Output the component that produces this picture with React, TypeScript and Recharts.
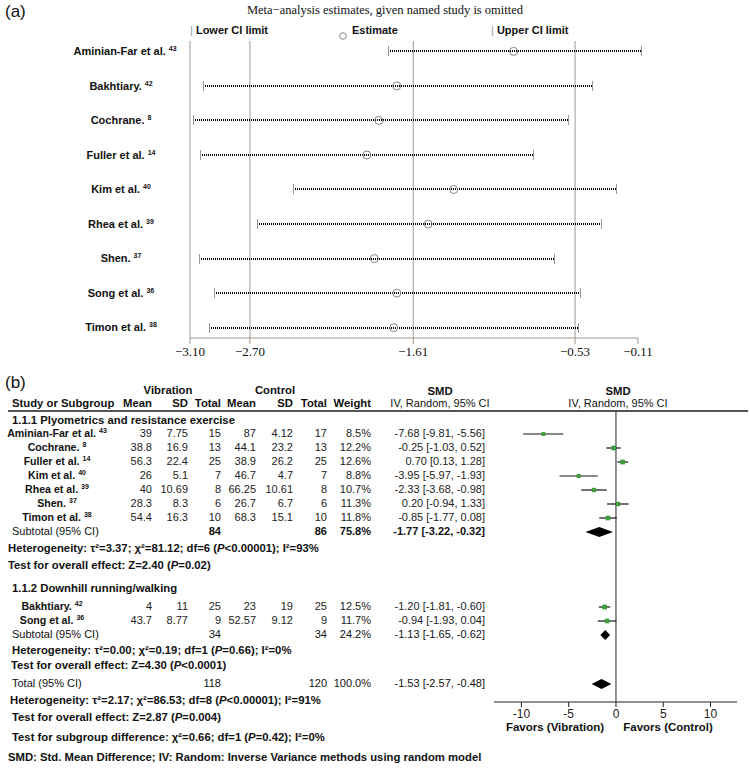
import React from 'react';
import { ScatterChart, Scatter, XAxis, YAxis, ReferenceLine, ReferenceArea, ErrorBar } from 'recharts';

const SANS = '"Liberation Sans", Arial, Helvetica, sans-serif';
const SERIF = '"Liberation Serif", "Times New Roman", serif';

// ---------- Panel (a): leave-one-out sensitivity ----------
const sensStudies = ['Aminian-Far et al.', 'Bakhtiary.', 'Cochrane.', 'Fuller et al.', 'Kim et al.', 'Rhea et al.', 'Shen.', 'Song et al.', 'Timon et al.'];
const sensRefs = ['43', '42', '8', '14', '40', '39', '37', '36', '38'];
const sensLower = [-1.78, -3.01, -3.08, -3.03, -2.41, -2.65, -3.04, -2.94, -2.97];
const sensEstimate = [-0.94, -1.72, -1.84, -1.92, -1.34, -1.51, -1.87, -1.72, -1.74];
const sensUpper = [-0.09, -0.42, -0.58, -0.81, -0.26, -0.36, -0.67, -0.50, -0.51];
const sensTicks = [-3.1, -2.7, -1.61, -0.53, -0.11];
const sensRefLines = [-3.1, -2.7, -1.61, -0.53];

// ---------- Panel (b): forest plot ----------
const studyNames = ['Aminian-Far et al.', 'Cochrane.', 'Fuller et al.', 'Kim et al.', 'Rhea et al.', 'Shen.', 'Timon et al.', 'Bakhtiary.', 'Song et al.'];
const studyRefs = ['43', '8', '14', '40', '39', '37', '38', '42', '36'];
const studyGroup = [0, 0, 0, 0, 0, 0, 0, 1, 1];
const vibMean = [39, 38.8, 56.3, 26, 40, 28.3, 54.4, 4, 43.7];
const vibSD = [7.75, 16.9, 22.4, 5.1, 10.69, 8.3, 16.3, 11, 8.77];
const vibN = [15, 13, 25, 7, 8, 6, 10, 25, 9];
const ctlMean = [87, 44.1, 38.9, 46.7, 66.25, 26.7, 68.3, 23, 52.57];
const ctlSD = [4.12, 23.2, 26.2, 4.7, 10.61, 6.7, 15.1, 19, 9.12];
const ctlN = [17, 13, 25, 7, 8, 6, 10, 25, 9];
const studyWeight = [8.5, 12.2, 12.6, 8.8, 10.7, 11.3, 11.8, 12.5, 11.7];
const studySmd = [-7.68, -0.25, 0.7, -3.95, -2.33, 0.2, -0.85, -1.2, -0.94];
const studyLow = [-9.81, -1.03, 0.13, -5.97, -3.68, -0.94, -1.77, -1.81, -1.93];
const studyHigh = [-5.56, 0.52, 1.28, -1.93, -0.98, 1.33, 0.08, -0.6, 0.04];

const groupTitles = ['1.1.1 Plyometrics and resistance exercise', '1.1.2 Downhill running/walking'];
// index 0,1 = subgroups, index 2 = total
const pooledVibN = [84, 34, 118];
const pooledCtlN = [86, 34, 120];
const pooledWeight = [75.8, 24.2, 100.0];
const pooledSmd = [-1.77, -1.13, -1.53];
const pooledLow = [-3.22, -1.65, -2.57];
const pooledHigh = [-0.32, -0.62, -0.48];
const hetTau2 = [3.37, 0.0, 2.17];
const hetChi2 = [81.12, 0.19, 86.53];
const hetDf = [6, 1, 8];
const hetP = ['<0.00001', '=0.66', '<0.00001'];
const hetI2 = [93, 0, 91];
const testZ = [2.4, 4.3, 2.87];
const testP = ['=0.02', '<0.0001', '=0.004'];
const subDiffChi2 = 0.66;
const subDiffDf = 1;
const subDiffP = '=0.42';
const subDiffI2 = 0;
const forestTicks = [-10, -5, 0, 5, 10];

// ---------- layout (px) ----------
const L = {
  groupY: [420, 588],
  studyStart: [433, 606],
  step: 14,
  subtotalY: [531, 634],
  hetY: [548, 650],
  testY: [565, 665],
  hetX: [8, 12],
  testX: [8, 11],
  totalY: 683,
  hetTY: 700,
  testTY: 717,
  subDiffY: 737,
  footY: 757,
  labelCenter: [57, 52],
};

const Txt = ({ x, y, align = 'left', size = 11, bold = false, family = SANS, color = '#111', children }: any) => {
  const w = 700;
  const left = align === 'left' ? x : align === 'right' ? x - w : x - w / 2;
  return (
    <div style={{ position: 'absolute', left, top: y - 8, width: w, height: 16, lineHeight: '16px', fontSize: size, fontWeight: bold ? 700 : 400, textAlign: align, whiteSpace: 'nowrap', fontFamily: family, color }}>
      {children}
    </div>
  );
};

const Sup = ({ children }: any) => (
  <span style={{ fontSize: 7, position: 'relative', top: -4, marginLeft: 3 }}>{children}</span>
);

const fmt2 = (v: number) => v.toFixed(2);
const ci = (m: number, lo: number, hi: number) => `${fmt2(m)} [${fmt2(lo)}, ${fmt2(hi)}]`;

const SensTick = (props: any) => {
  const { y, payload } = props;
  const i = payload.value;
  return (
    <text x={i === 0 ? 125 : 121} y={y} dy="0.35em" textAnchor="middle" fontFamily={SANS} fontWeight="bold" fontSize={11} fill="#111">
      {sensStudies[i]}
      <tspan fontSize={7} dx={3} dy={-4}>{sensRefs[i]}</tspan>
    </text>
  );
};

function rowYOf(i: number) {
  const g = studyGroup[i];
  let k = 0;
  for (let j = 0; j < i; j++) if (studyGroup[j] === g) k++;
  return L.studyStart[g] + k * L.step;
}

export default function App() {
  const GRID = '#a3968f';
  const sensData = sensStudies.map((_, i) => ({ row: i, x: sensEstimate[i] }));
  const forestData = studyNames.map((_, i) => ({
    x: studySmd[i],
    y: rowYOf(i) + 1,
    err: [studySmd[i] - studyLow[i], studyHigh[i] - studySmd[i]],
    w: studyWeight[i],
  }));
  const pooledY = [L.subtotalY[0] + 1, L.subtotalY[1] + 1, L.totalY + 1];

  const colRight = [152, 188, 221, 256, 293, 327, 371];
  const smdRight = 485;
  const BOLD_SIZE = 11.3;

  return (
    <div style={{ position: 'absolute', left: 0, top: 0, width: 750, height: 768, background: '#fff', overflow: 'hidden', fontFamily: SANS, color: '#111' }}>
      {/* Panel (a) */}
      <Txt x={5} y={12} size={17}>(a)</Txt>
      <Txt x={385} y={10} align="center" size={12.5} family={SERIF}>Meta−analysis estimates, given named study is omitted</Txt>
      <Txt x={190} y={30} size={11} bold><span style={{ color: '#999', fontWeight: 400 }}>|</span> Lower CI limit</Txt>
      <div style={{ position: 'absolute', left: 339, top: 26, width: 8, height: 8 }}>
        <svg width={8} height={8}><circle cx={4} cy={4} r={3.3} fill="none" stroke="#8c817c" strokeWidth={1} /></svg>
      </div>
      <Txt x={352} y={30} size={11} bold>Estimate</Txt>
      <Txt x={491} y={30} size={11} bold><span style={{ color: '#999', fontWeight: 400 }}>|</span> Upper CI limit</Txt>

      <div style={{ position: 'absolute', left: 0, top: 0 }}>
        <ScatterChart width={750} height={372} margin={{ top: 41, right: 112, bottom: 0, left: 0 }}>
          <XAxis
            type="number"
            dataKey="x"
            domain={[-3.1, -0.11]}
            ticks={sensTicks}
            interval={0}
            allowDataOverflow
            height={34}
            axisLine={{ stroke: GRID }}
            tickLine={{ stroke: GRID }}
            tickSize={6}
            tickMargin={3}
            tick={{ fill: '#111', fontFamily: SERIF, fontSize: 13 }}
            tickFormatter={(v: number) => v.toFixed(2).replace('-', '−')}
          />
          <YAxis
            type="number"
            dataKey="row"
            domain={[-0.3, 8.3]}
            reversed
            ticks={sensStudies.map((_, i) => i)}
            interval={0}
            width={190}
            axisLine={false}
            tickLine={false}
            tick={<SensTick />}
          />
          {sensRefLines.map((v) => (
            <ReferenceLine key={'r' + v} x={v} stroke={GRID} strokeWidth={1} />
          ))}
          {sensStudies.map((_, i) => (
            <ReferenceLine
              key={'s' + i}
              segment={[{ x: sensLower[i], y: i }, { x: sensUpper[i], y: i }]}
              ifOverflow="visible"
              shape={(p: any) => {
                const yy = Math.round(p.y1);
                const xa = Math.round(p.x1);
                const xb = Math.round(p.x2);
                return (
                  <g>
                    <line x1={xa} y1={yy} x2={xb} y2={yy} stroke="#000" strokeWidth={2} strokeDasharray="1 1" shapeRendering="crispEdges" />
                    <line x1={xa + 0.5} y1={yy - 5} x2={xa + 0.5} y2={yy + 5} stroke="#999" strokeWidth={1} />
                    <line x1={xb + 0.5} y1={yy - 5} x2={xb + 0.5} y2={yy + 5} stroke="#999" strokeWidth={1} />
                  </g>
                );
              }}
            />
          ))}
          <Scatter
            data={sensData}
            isAnimationActive={false}
            shape={(p: any) => <circle cx={p.cx} cy={p.cy} r={4} fill="none" stroke="#8c817c" strokeWidth={1} />}
          />
        </ScatterChart>
      </div>

      {/* Panel (b) */}
      <Txt x={5} y={383} size={17}>(b)</Txt>
      <Txt x={168} y={390} align="center" bold size={BOLD_SIZE}>Vibration</Txt>
      <Txt x={275} y={390} align="center" bold size={BOLD_SIZE}>Control</Txt>
      <Txt x={440} y={391} align="center" bold size={BOLD_SIZE}>SMD</Txt>
      <Txt x={618} y={391} align="center" bold size={BOLD_SIZE}>SMD</Txt>
      <Txt x={12} y={403} bold size={BOLD_SIZE}>Study or Subgroup</Txt>
      {['Mean', 'SD', 'Total', 'Mean', 'SD', 'Total', 'Weight'].map((h, k) => (
        <Txt key={'h' + k} x={colRight[k]} y={403} align="right" bold size={BOLD_SIZE}>{h}</Txt>
      ))}
      <Txt x={440} y={403} align="center">IV, Random, 95% CI</Txt>
      <Txt x={618} y={403} align="center">IV, Random, 95% CI</Txt>
      <div style={{ position: 'absolute', left: 8, top: 410, width: 740, height: 1.5, background: '#555' }} />

      {groupTitles.map((t, g) => (
        <Txt key={'g' + g} x={12} y={L.groupY[g]} bold size={BOLD_SIZE}>{t}</Txt>
      ))}

      {studyNames.map((n, i) => {
        const y = rowYOf(i);
        const vals = [vibMean[i], vibSD[i], vibN[i], ctlMean[i], ctlSD[i], ctlN[i]].map(String);
        vals.push(studyWeight[i].toFixed(1) + '%');
        return (
          <React.Fragment key={'st' + i}>
            <Txt x={L.labelCenter[studyGroup[i]]} y={y} align="center" bold size={10.6}>{n}<Sup>{studyRefs[i]}</Sup></Txt>
            {vals.map((v, k) => (
              <Txt key={k} x={colRight[k]} y={y} align="right" color="#222">{v}</Txt>
            ))}
            <Txt x={smdRight} y={y} align="right" color="#222">{ci(studySmd[i], studyLow[i], studyHigh[i])}</Txt>
          </React.Fragment>
        );
      })}

      {[0, 1].map((g) => (
        <React.Fragment key={'sub' + g}>
          <Txt x={12} y={L.subtotalY[g]}>Subtotal (95% CI)</Txt>
          <Txt x={colRight[2]} y={L.subtotalY[g]} align="right" bold={g === 0}>{pooledVibN[g]}</Txt>
          <Txt x={colRight[5]} y={L.subtotalY[g]} align="right" bold={g === 0}>{pooledCtlN[g]}</Txt>
          <Txt x={colRight[6]} y={L.subtotalY[g]} align="right" bold={g === 0}>{pooledWeight[g].toFixed(1)}%</Txt>
          <Txt x={smdRight} y={L.subtotalY[g]} align="right" bold={g === 0}>{ci(pooledSmd[g], pooledLow[g], pooledHigh[g])}</Txt>
          <Txt x={L.hetX[g]} y={L.hetY[g]} bold size={BOLD_SIZE}>
            Heterogeneity: τ²={fmt2(hetTau2[g])}; χ²={fmt2(hetChi2[g])}; df={hetDf[g]} (<i>P</i>{hetP[g]}); I²={hetI2[g]}%
          </Txt>
          <Txt x={L.testX[g]} y={L.testY[g]} bold size={BOLD_SIZE}>
            Test for overall effect: Z={fmt2(testZ[g])} (<i>P</i>{testP[g]})
          </Txt>
        </React.Fragment>
      ))}

      <Txt x={12} y={L.totalY}>Total (95% CI)</Txt>
      <Txt x={colRight[2]} y={L.totalY} align="right">{pooledVibN[2]}</Txt>
      <Txt x={colRight[5]} y={L.totalY} align="right">{pooledCtlN[2]}</Txt>
      <Txt x={colRight[6]} y={L.totalY} align="right">{pooledWeight[2].toFixed(1)}%</Txt>
      <Txt x={smdRight} y={L.totalY} align="right">{ci(pooledSmd[2], pooledLow[2], pooledHigh[2])}</Txt>
      <Txt x={10} y={L.hetTY} bold size={BOLD_SIZE}>
        Heterogeneity: τ²={fmt2(hetTau2[2])}; χ²={fmt2(hetChi2[2])}; df={hetDf[2]} (<i>P</i>{hetP[2]}); I²={hetI2[2]}%
      </Txt>
      <Txt x={12} y={L.testTY} bold size={BOLD_SIZE}>
        Test for overall effect: Z={fmt2(testZ[2])} (<i>P</i>{testP[2]})
      </Txt>
      <Txt x={12} y={L.subDiffY} bold size={BOLD_SIZE}>
        Test for subgroup difference: χ²={fmt2(subDiffChi2)}; df={subDiffDf} (<i>P</i>{subDiffP}); I²={subDiffI2}%
      </Txt>
      <Txt x={8} y={L.footY} bold size={BOLD_SIZE}>SMD: Std. Mean Difference; IV: Random: Inverse Variance methods using random model</Txt>

      <Txt x={555} y={727} align="center" bold size={11.5}>Favors (Vibration)</Txt>
      <Txt x={668} y={727} align="center" bold size={11.5}>Favors (Control)</Txt>

      <div style={{ position: 'absolute', left: 0, top: 0 }}>
        <ScatterChart width={750} height={768} margin={{ top: 411, right: 13, bottom: 36, left: 494 }}>
          <XAxis
            type="number"
            dataKey="x"
            domain={[-12.9, 12.8]}
            ticks={forestTicks}
            interval={0}
            allowDataOverflow
            height={30}
            axisLine={{ stroke: '#222' }}
            tickLine={{ stroke: '#222' }}
            tickSize={5}
            tick={{ fill: '#222', fontFamily: SANS, fontSize: 12 }}
          />
          <YAxis type="number" dataKey="y" domain={[411, 702]} reversed hide />
          <ReferenceLine x={0} stroke="#222" strokeWidth={1} />
          {pooledSmd.map((m, k) => (
            <ReferenceArea
              key={'d' + k}
              x1={pooledLow[k]}
              x2={pooledHigh[k]}
              y1={pooledY[k] - 5}
              y2={pooledY[k] + 5}
              shape={(p: any) => {
                const cx = p.x + (p.width * (m - pooledLow[k])) / (pooledHigh[k] - pooledLow[k]);
                const cy = p.y + p.height / 2;
                return (
                  <polygon
                    points={`${p.x},${cy} ${cx},${p.y} ${p.x + p.width},${cy} ${cx},${p.y + p.height}`}
                    fill="#000"
                  />
                );
              }}
            />
          ))}
          <Scatter
            data={forestData}
            isAnimationActive={false}
            shape={(p: any) => {
              const s = 2 + p.payload.w * 0.22;
              return <rect x={p.cx - s / 2} y={p.cy - s / 2} width={s} height={s} fill="#3e9e3e" />;
            }}
          >
            <ErrorBar dataKey="err" direction="x" width={0} stroke="#111" strokeWidth={1.2} isAnimationActive={false} />
          </Scatter>
        </ScatterChart>
      </div>
    </div>
  );
}
